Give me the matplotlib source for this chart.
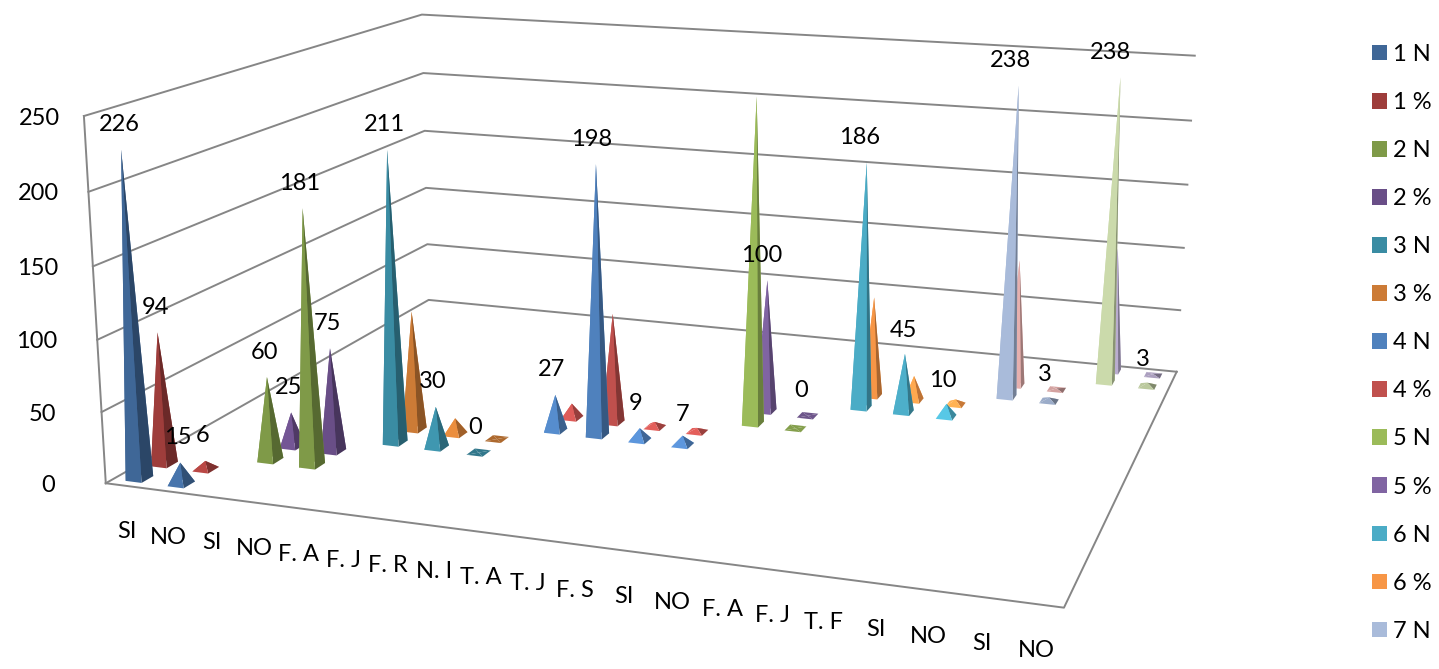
import numpy as np
import matplotlib
matplotlib.use('Agg')
import matplotlib.pyplot as plt
from matplotlib.patches import Patch
from mpl_toolkits.mplot3d import proj3d
from mpl_toolkits.mplot3d.art3d import Poly3DCollection

plt.rcParams['font.family'] = ['Lato', 'DejaVu Sans']

# DATA
categories = ['SI', 'NO', 'SI', 'NO', 'F. A', 'F. J', 'F. R', 'N. I', 'T. A', 'T. J',
              'F. S', 'SI', 'NO', 'F. A', 'F. J', 'T. F', 'SI', 'NO', 'SI', 'NO']
z_ticks = [0, 50, 100, 150, 200, 250]
group_names = ['1', '2', '3', '4', '5', '6', '7', '8']
group_start = [0, 2, 4, 7, 11, 13, 16, 18]  # first category of each group
n_values = [[226, 15], [60, 181], [211, 30, 0], [27, 198, 9, 7],
            [241, 0], [186, 45, 10], [238, 3], [238, 3]]
pct_values = [[94, 6], [25, 75], [88, 12, 0], [11, 82, 4, 3],
              [100, 0], [77, 19, 4], [99, 1], [99, 1]]
n_colors = ['#3F6797', '#7F9A48', '#3A8CA3', '#4F81BD', '#9BBB59', '#4BACC6', '#A9BBDA', '#CBDAAB']
pct_colors = ['#9E3D3B', '#694E87', '#CC7B36', '#C0504D', '#8064A2', '#F79646', '#E6B0AE', '#BAADD0']
# which groups have data labels on the N row and on the % row
n_labelled = [True, True, True, True, False, True, True, True]
pct_labelled = [True, True, False, False, True, False, False, False]
legend_entries = 13  # the legend runs off the picture after "7 N"

# SETTINGS
half_x = 0.19  # half width of a pyramid base, in categories
half_y = 0.23  # half depth of a pyramid base, in rows
grid_color = '#868686'
font_size = 17
# label shifts in pixels for the few that sit away from their pyramid, (row, category)
label_nudge = {(6, 10): (5, 4), (10, 14): (6, 2), (10, 15): (4, 2), (12, 17): (5, 2), (14, 19): (6, 2)}

# Camera fitted to the corners of the floor and walls
scale = 6293.139
offset_x, offset_y = 683.63, 256.358
fig_w, fig_h = 1439, 669
side = scale * 0.185
left = offset_x - scale * 0.095
bottom = offset_y + scale * 0.095

fig = plt.figure(figsize=(fig_w / 100, fig_h / 100), dpi=100)
ax = fig.add_axes([left / fig_w, 1 - bottom / fig_h, side / fig_w, side / fig_h], projection='3d')
ax.set_xlim(0, 20)
ax.set_ylim(0, 16)
ax.set_zlim(0, 250)
ax.view_init(13.8632, -71.028, -0.2148)
ax.set_proj_type('persp', focal_length=0.3664)
ax.set_box_aspect((1, 0.7862, 0.3879))
ax.set_axis_off()
ax.computed_zorder = False
proj = ax.get_proj()


def to_2d(x, y, z):
    px, py, _ = proj3d.proj_transform(x, y, z, proj)
    return float(px), float(py)


def label(text, x, y, z, dx, dy):
    # dx, dy in pixels, y going down
    ax.annotate(text, xy=to_2d(x, y, z), xytext=(dx * 0.72, -dy * 0.72), textcoords='offset points',
                ha='center', va='center', fontsize=font_size, color='black', zorder=2000)


def shade(color, f):
    return tuple(np.clip(np.array(matplotlib.colors.to_rgb(color)) * f, 0, 1))


def pyramid(cat, row, value, color):
    x, y = cat + 0.5, row + 0.5
    x0, x1, y0, y1 = x - half_x, x + half_x, y - half_y, y + half_y
    apex = (x, y, value)
    a, b, c, d = (x0, y0, 0), (x1, y0, 0), (x1, y1, 0), (x0, y1, 0)
    # low pyramids catch more light than steep ones, pale colours stay muted
    f = 1 + 0.2 * max(0, 1 - value / 50)
    if np.mean(matplotlib.colors.to_rgb(color)) > 0.7 and value < 50:
        f = 0.92
    side_f = f * 0.68
    if value == 0:
        f = side_f = 0.85
    faces = [[d, c, apex], [a, d, apex], [a, b, apex], [b, c, apex]]
    cols = [shade(color, f), shade(color, f), shade(color, f), shade(color, side_f)]
    poly = Poly3DCollection(faces, facecolors=cols, edgecolors='none', linewidths=0,
                            zorder=100 + (16 - row) * 30 + cat)
    ax.add_collection3d(poly)


# Walls and floor, the top left corner pokes out of the axes box
for z in z_ticks:
    ax.plot([0, 0, 20], [0, 16, 16], [z, z, z], color=grid_color, lw=1.4, zorder=1, clip_on=False)
ax.plot([0, 0], [0, 0], [0, 250], color=grid_color, lw=1.4, zorder=1, clip_on=False)
ax.plot([0, 20, 20], [0, 0, 16], [0, 0, 0], color=grid_color, lw=1.4, zorder=1, clip_on=False)

for z in z_ticks:
    right = 55.5 + 4 * z / 250
    _, ypos = to_2d(0, 0, z)
    ax.annotate(str(z), xy=(right, fig_h - (offset_y - scale * ypos) - 2), xycoords='figure pixels',
                ha='right', va='center', fontsize=font_size, zorder=2000)

for i, name in enumerate(categories):
    label(name, i + 0.5, 0, 0, 0, 46)

# Pyramids, back rows first
for g in range(len(group_names)):
    rows = [(2 * g, n_values[g], n_colors[g], n_labelled[g]),
            (2 * g + 1, pct_values[g], pct_colors[g], pct_labelled[g])]
    for row, values, color, labelled in rows:
        for k, v in enumerate(values):
            cat = group_start[g] + k
            pyramid(cat, row, v, color)
            if labelled:
                px = offset_x + scale * to_2d(cat + 0.5, row + 0.5, v)[0]
                nudge = label_nudge.get((row, cat), (0, 0))
                label(str(v), cat + 0.5, row + 0.5, v,
                      -2 - 8 * (px / 1120) ** 2 + nudge[0], -25 + nudge[1])

# Legend
names = []
colors = []
for g, name in enumerate(group_names):
    names += [name + ' N', name + ' %']
    colors += [n_colors[g], pct_colors[g]]
handles = [Patch(facecolor=c, edgecolor='none') for c in colors[:legend_entries]]
fig.legend(handles, names[:legend_entries], loc='upper left', bbox_to_anchor=(1372 / fig_w, 1 - 44 / fig_h),
           frameon=False, fontsize=font_size, ncol=1, borderpad=0, borderaxespad=0,
           handlelength=0.635, handleheight=0.635, handletextpad=0.25, labelspacing=1.146)

fig.savefig('out.png', dpi=100)
